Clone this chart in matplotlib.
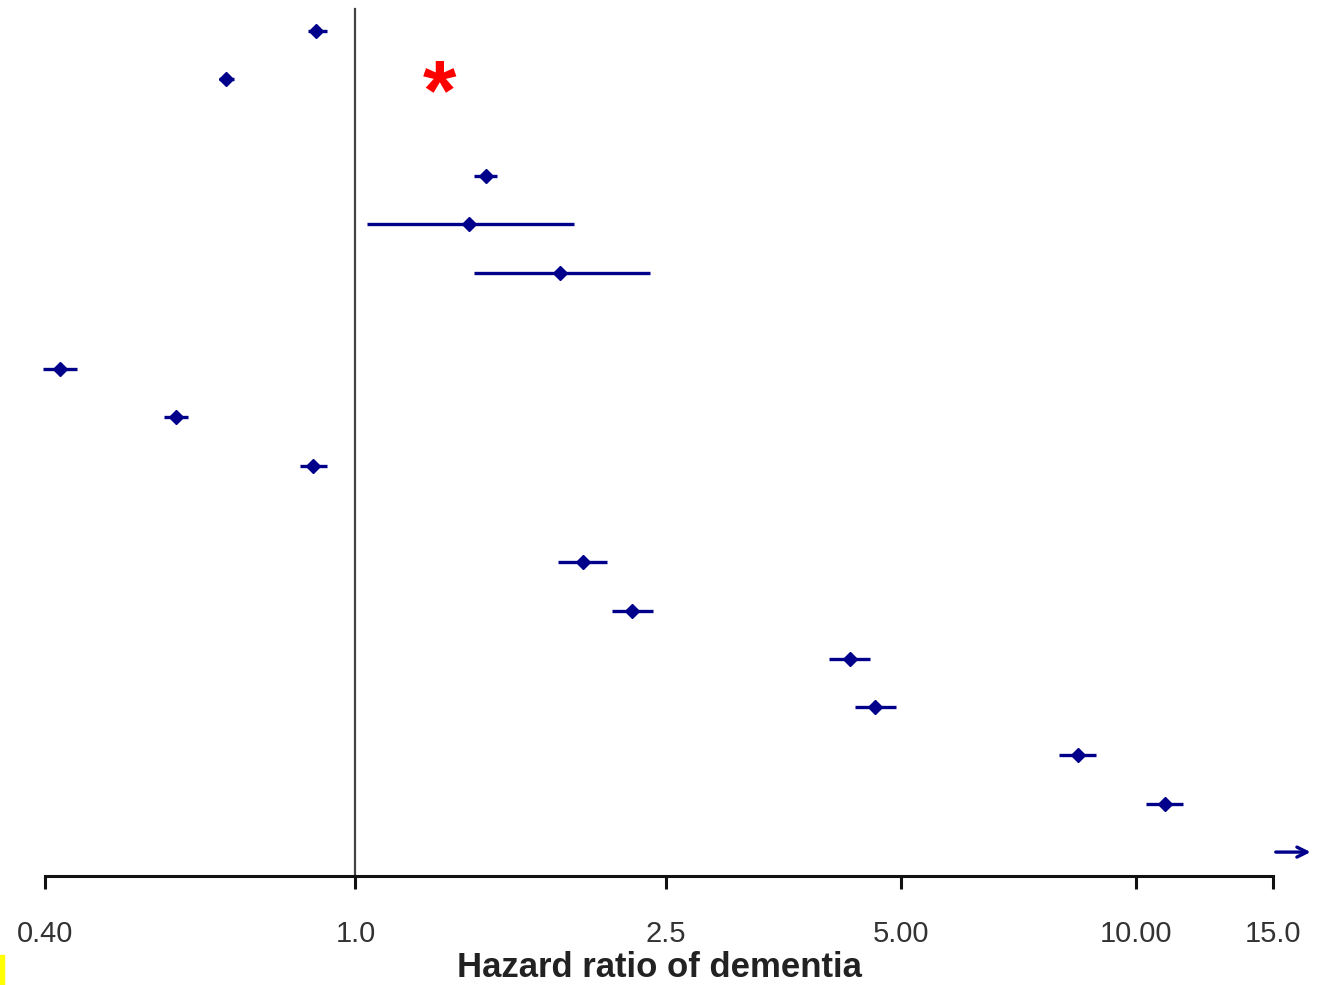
import matplotlib
matplotlib.use('Agg')
import matplotlib.pyplot as plt
import numpy as np
from matplotlib.patches import Rectangle

plt.rcParams['font.family'] = ['Liberation Sans', 'DejaVu Sans']

# Data: hazard ratios with 95% CI, one per row (None = blank row)
rows = list(range(18))
hr = [0.89, 0.682, None, 1.47, 1.40, 1.83, None, 0.418, 0.589, 0.882,
      None, 1.96, 2.26, 4.30, 4.64, 8.43, 10.9, None]
lo = [0.87, 0.668, None, 1.42, 1.035, 1.42, None, 0.398, 0.568, 0.849,
      None, 1.82, 2.13, 4.05, 4.37, 7.98, 10.3, None]
hi = [0.92, 0.699, None, 1.52, 1.905, 2.385, None, 0.44, 0.61, 0.919,
      None, 2.10, 2.41, 4.57, 4.93, 8.90, 11.5, None]
arrow_row = 17
arrow_from, arrow_to = 15.0, 16.9

ticks = [0.40, 1.0, 2.5, 5.00, 10.00, 15.0]
tick_labels = ['0.40', '1.0', '2.5', '5.00', '10.00', '15.0']

W, H = 1332, 985
fig = plt.figure(figsize=(W / 100, H / 100), dpi=100)
ax = fig.add_axes([45 / W, (H - 876) / H, (1273 - 45) / W, 876 / H])

col = '#00008B'
for r, m, l, h in zip(rows, hr, lo, hi):
    if m is None:
        continue
    ax.plot([l, h], [r, r], color=col, lw=2.4, solid_capstyle='butt', clip_on=False)
    ax.plot(m, r, marker='D', color=col, ms=7, clip_on=False)

ax.annotate('', xy=(arrow_to, arrow_row), xytext=(arrow_from, arrow_row),
            arrowprops=dict(arrowstyle='->', color=col, lw=2.4, mutation_scale=18),
            annotation_clip=False)

ax.set_xscale('log')
ax.set_xlim(0.4, 15)
ax.set_ylim(17.495, -0.642)
ax.axvline(1.0, ymax=0.99, color='#444444', lw=1.6)

ax.text(1.28, 1.38, '*', color='red', fontsize=62, fontweight='bold',
        ha='center', va='center')

for s in ['top', 'right', 'left']:
    ax.spines[s].set_visible(False)
ax.spines['bottom'].set_linewidth(2.2)
ax.spines['bottom'].set_color('#111111')
ax.set_yticks([])
ax.set_xticks(ticks)
ax.set_xticklabels(tick_labels)
ax.xaxis.set_minor_locator(matplotlib.ticker.NullLocator())
ax.tick_params(axis='x', length=9, width=2.2, color='#111111', pad=23,
               labelsize=21, labelcolor='#333333')
ax.set_xlabel('Hazard ratio of dementia', fontsize=25, fontweight='bold',
              color='#222222', labelpad=2)

fig.add_artist(Rectangle((0, 0), 4 / W, 30 / H, color='yellow',
                         transform=fig.transFigure))

fig.savefig('out.png', dpi=100)
